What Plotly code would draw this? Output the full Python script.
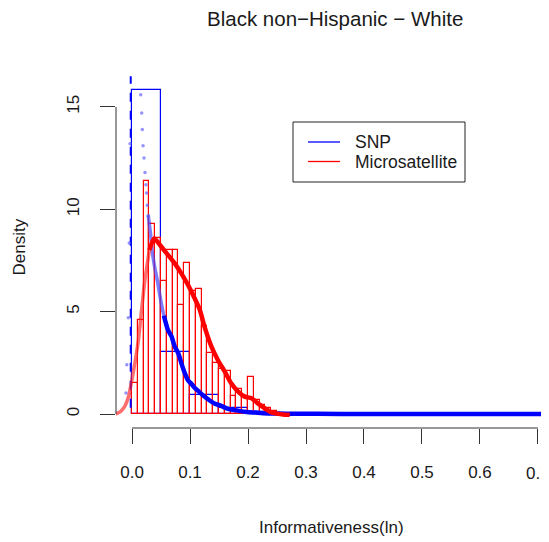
import plotly.graph_objects as go

# ---------------- data ----------------
x_ticks = [0.0, 0.1, 0.2, 0.3, 0.4, 0.5, 0.6, 0.7]
y_ticks = [0, 5, 10, 15]

# SNP histogram, bin width 0.05, starting at 0
snp_bin_width = 0.05
snp_heights = [15.84, 3.02, 0.92, 0.27, 0.08, 0.02, 0.01, 0.01, 0.01, 0.0, 0.0, 0.0, 0.0, 0.0]

# Microsatellite histogram, bin width 0.01, starting at 0
ms_bin_width = 0.01
ms_heights = [1.5, 4.6, 11.4, 9.3, 8.6, 6.5, 8.0, 8.0, 5.3, 7.4,
              6.0, 6.1, 4.3, 3.0, 2.5, 2.2, 2.1, 0.9, 1.2, 0.9,
              1.8, 0.7, 0.45, 0.3, 0.15, 0.05]

# SNP density: steep part rendered as separate dots
snp_rise_x = [-0.0103, -0.009, -0.0064, -0.0047, -0.0034]
snp_rise_y = [1.03, 2.4, 4.7, 8.35, 13.2]
snp_edge_x = [-0.0022, -0.0022]
snp_edge_y = [0.3, 16.5]
snp_fall_x = [0.015, 0.0167, 0.0178, 0.019, 0.0207, 0.0224, 0.024, 0.025,
              0.0264, 0.028]
snp_fall_y = [15.6, 14.7, 13.9, 13.1, 12.5, 11.8, 11.2, 10.8,
              10.2, 9.7]
# SNP density: transition part (dense semi-transparent dots)
snp_mid_x = [0.028, 0.0298, 0.032, 0.0345, 0.039, 0.0425, 0.045, 0.048, 0.0506, 0.055, 0.062]
snp_mid_y = [9.7, 9.3, 8.8, 8.0, 7.2, 6.7, 6.3, 5.8, 5.4, 4.8, 4.1]
# SNP density: smooth part
snp_x = [0.055, 0.062, 0.068, 0.0736, 0.08,
         0.086, 0.091, 0.0966, 0.103, 0.108, 0.117, 0.125, 0.134, 0.143, 0.152,
         0.163, 0.175, 0.187, 0.198, 0.212, 0.226, 0.25, 0.28, 0.32, 0.4, 0.5,
         0.6, 0.706]
snp_y = [4.8, 4.1, 3.8, 3.3, 2.95,
         2.4, 2.0, 1.65, 1.45, 1.28, 1.05, 0.85, 0.66, 0.5, 0.42,
         0.28, 0.2, 0.14, 0.1, 0.07, 0.04, 0.02, 0.01, 0.01, 0.0, 0.0,
         0.0, 0.0]

# Microsatellite density: steep rise and main part
ms_rise_x = [-0.034, -0.027, -0.02, -0.012, -0.006, 0.0, 0.005, 0.011, 0.017, 0.022, 0.03]
ms_rise_y = [-0.05, 0.02, 0.12, 0.4, 0.85, 1.7, 2.5, 3.6, 5.2, 6.5, 8.0]
ms_x = [0.03, 0.038, 0.0506, 0.062, 0.0736, 0.085, 0.0966, 0.108, 0.117, 0.125,
        0.137, 0.148, 0.16, 0.171, 0.183, 0.194, 0.206, 0.217, 0.229, 0.24,
        0.25, 0.26, 0.272]
ms_y = [8.0, 8.58, 8.17, 7.77, 7.36, 6.87, 6.3, 5.65, 5.08, 4.27,
        3.29, 2.64, 2.07, 1.5, 1.09, 0.85, 0.77, 0.52, 0.28, 0.08,
        0.02, -0.02, -0.04]

title_text = "Black non\u2212Hispanic \u2212 White"
x_label = "Informativeness(ln)"
y_label = "Density"
legend_labels = ["SNP", "Microsatellite"]

# ---------------- layout geometry (page pixels; page body has an 8px margin) ----------------
OFF = 8
W, H = 549 - OFF, 542 - OFF
PLOT_L, PLOT_R, PLOT_T, PLOT_B = 116, 549, 76, 428   # plot area in page pixels
L = PLOT_L - OFF
T = PLOT_T - OFF
R = (W + OFF) - PLOT_R
B = (H + OFF) - PLOT_B
PW = PLOT_R - PLOT_L
PH = PLOT_B - PLOT_T

def px(xp):
    return (xp - PLOT_L) / PW

def py(yp):
    return (PLOT_B - yp) / PH

BLUE = "rgb(0,0,255)"
RED = "rgb(255,0,0)"
FONT = "Liberation Sans, Arial, Helvetica, sans-serif"
TXT = "#1a1a1a"

fig = go.Figure()

# SNP histogram (outline only)
snp_centers = [snp_bin_width * (i + 0.5) for i in range(len(snp_heights))]
fig.add_trace(go.Bar(x=snp_centers, y=snp_heights, width=snp_bin_width,
                     marker=dict(color="rgba(255,255,255,0)",
                                 line=dict(color=BLUE, width=1.2)),
                     showlegend=False, hoverinfo="skip"))

# Microsatellite histogram
ms_centers = [ms_bin_width * (i + 0.5) for i in range(len(ms_heights))]
fig.add_trace(go.Bar(x=ms_centers, y=ms_heights, width=ms_bin_width,
                     marker=dict(color="rgba(255,255,255,0)",
                                 line=dict(color=RED, width=1.2)),
                     showlegend=False, hoverinfo="skip"))

# SNP density pieces
fig.add_trace(go.Scatter(x=snp_edge_x, y=snp_edge_y, mode="lines",
                         line=dict(color=BLUE, width=2, dash="dash"),
                         showlegend=False, hoverinfo="skip"))
fig.add_trace(go.Scatter(x=snp_rise_x + snp_fall_x, y=snp_rise_y + snp_fall_y, mode="markers",
                         marker=dict(color="rgba(90,90,255,0.65)", size=3.5),
                         showlegend=False, hoverinfo="skip"))
fig.add_trace(go.Scatter(x=snp_mid_x, y=snp_mid_y, mode="lines",
                         line=dict(color="rgba(70,70,255,0.7)", width=3.5,
                                   shape="spline", smoothing=0.6),
                         showlegend=False, hoverinfo="skip"))
fig.add_trace(go.Scatter(x=snp_x, y=snp_y, mode="lines",
                         line=dict(color=BLUE, width=4.5, shape="spline", smoothing=0.6),
                         showlegend=False, hoverinfo="skip"))

# Microsatellite density (drawn last, on top)
fig.add_trace(go.Scatter(x=ms_rise_x, y=ms_rise_y, mode="lines",
                         line=dict(color="rgba(255,30,30,0.65)", width=3.5, shape="spline", smoothing=0.6),
                         showlegend=False, hoverinfo="skip"))
fig.add_trace(go.Scatter(x=ms_x, y=ms_y, mode="lines",
                         line=dict(color=RED, width=4.5, shape="spline", smoothing=0.6),
                         showlegend=False, hoverinfo="skip"))

shapes = []
# R-style axis lines spanning first to last tick
shapes.append(dict(type="line", xref="x", yref="paper", x0=min(x_ticks), x1=max(x_ticks),
                   y0=0, y1=0, line=dict(color="#333333", width=1)))
shapes.append(dict(type="line", xref="paper", yref="y", x0=0, x1=0,
                   y0=min(y_ticks), y1=max(y_ticks), line=dict(color="#333333", width=1)))
# legend box
shapes.append(dict(type="rect", xref="paper", yref="paper",
                   x0=px(293), x1=px(465), y0=py(182), y1=py(122),
                   line=dict(color="#222222", width=1), fillcolor="white"))
shapes.append(dict(type="line", xref="paper", yref="paper", x0=px(308), x1=px(340),
                   y0=py(142), y1=py(142), line=dict(color=BLUE, width=1.3)))
shapes.append(dict(type="line", xref="paper", yref="paper", x0=px(308), x1=px(340),
                   y0=py(161.5), y1=py(161.5), line=dict(color=RED, width=1.3)))

# tick labels: the last one drawn as an annotation so it is not dropped at the edge
x_ticktext = [f"{v:.1f}" for v in x_ticks]
x_ticktext_axis = x_ticktext[:-1] + [""]

annotations = [
    dict(text=title_text, xref="paper", yref="paper", x=px(335), y=py(18.5),
         xanchor="center", yanchor="middle", showarrow=False,
         font=dict(size=20.5, color=TXT, family=FONT)),
    dict(text=x_label, xref="paper", yref="paper", x=px(331), y=py(527),
         xanchor="center", yanchor="middle", showarrow=False,
         font=dict(size=17, color=TXT, family=FONT)),
    dict(text=y_label, xref="paper", yref="paper", x=px(18.5), y=py(247),
         xanchor="center", yanchor="middle", showarrow=False, textangle=-90,
         font=dict(size=17, color=TXT, family=FONT)),
    dict(text=legend_labels[0], xref="paper", yref="paper", x=px(353), y=py(142),
         xanchor="left", yanchor="middle", showarrow=False,
         font=dict(size=17.5, color=TXT, family=FONT)),
    dict(text=legend_labels[1], xref="paper", yref="paper", x=px(353), y=py(161.5),
         xanchor="left", yanchor="middle", showarrow=False,
         font=dict(size=17.5, color=TXT, family=FONT)),
    dict(text=x_ticktext[-1], xref="x", yref="paper", x=x_ticks[-1], y=py(473.5),
         xanchor="center", yanchor="middle", showarrow=False,
         font=dict(size=17, color=TXT, family=FONT)),
]

fig.update_layout(
    width=W, height=H,
    margin=dict(l=L, r=R, t=T, b=B, pad=0, autoexpand=False),
    paper_bgcolor="white", plot_bgcolor="white",
    barmode="overlay", bargap=0,
    showlegend=False,
    shapes=shapes, annotations=annotations,
    font=dict(family=FONT, color=TXT, size=17),
)
fig.update_xaxes(range=[-0.0276, 0.719], tickvals=x_ticks,
                 ticktext=x_ticktext_axis,
                 ticks="outside", ticklen=15, tickwidth=1, tickcolor="#333333",
                 showgrid=False, zeroline=False, showline=False,
                 ticklabeloverflow="allow",
                 ticklabelstandoff=14, tickfont=dict(size=17, color=TXT, family=FONT))
fig.update_yaxes(range=[-0.684, 16.51], tickvals=y_ticks,
                 ticktext=[str(v) for v in y_ticks],
                 ticks="outside", ticklen=15, tickwidth=1, tickcolor="#333333",
                 showgrid=False, zeroline=False, showline=False, tickangle=-90,
                 ticklabelstandoff=14, tickfont=dict(size=17, color=TXT, family=FONT))

fig.write_html("out.html",
               post_script="document.documentElement.style.overflow='hidden';"
                           "document.body.style.overflow='hidden';")
